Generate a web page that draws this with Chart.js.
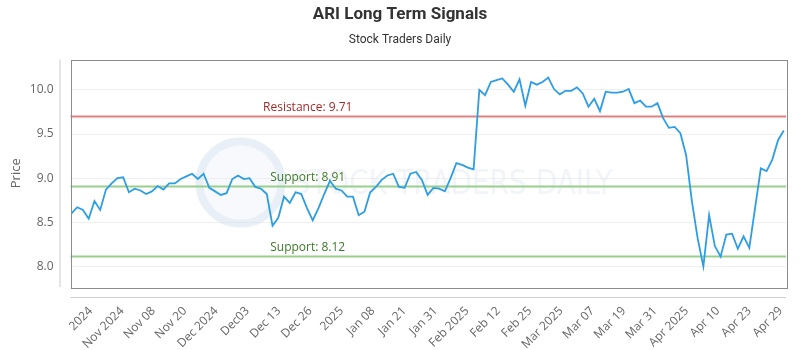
<!DOCTYPE html>
<html>
<head>
<meta charset="utf-8">
<title>ARI Long Term Signals</title>
<script src="https://cdn.jsdelivr.net/npm/chart.js@4.4.1/dist/chart.umd.min.js"></script>
<style>
  html, body { margin: 0; padding: 0; background: #fff; }
  #wrap { width: 800px; height: 350px; position: relative; }
</style>
</head>
<body>
<div id="wrap"><canvas id="chart"></canvas></div>
<script>
// closing prices, one per trading day
var prices = [
  8.60, 8.67, 8.64, 8.54, 8.74, 8.64, 8.87, 8.94, 9.00, 9.01,
  8.84, 8.88, 8.86, 8.82, 8.85, 8.91, 8.87, 8.94, 8.94, 8.99,
  9.02, 9.05, 8.99, 9.05, 8.89, 8.85, 8.81, 8.83, 8.99, 9.03,
  8.99, 9.00, 8.90, 8.88, 8.82, 8.46, 8.55, 8.79, 8.72, 8.84,
  8.82, 8.66, 8.52, 8.66, 8.82, 8.97, 8.88, 8.86, 8.79, 8.79,
  8.58, 8.62, 8.84, 8.90, 8.98, 9.03, 9.05, 8.90, 8.89, 9.05,
  9.07, 8.98, 8.81, 8.89, 8.88, 8.85, 9.00, 9.17, 9.15, 9.12,
  9.10, 10.00, 9.94, 10.09, 10.11, 10.13, 10.06, 9.98, 10.12, 9.82,
  10.09, 10.06, 10.09, 10.14, 10.01, 9.95, 9.99, 9.99, 10.03, 9.96,
  9.81, 9.90, 9.76, 9.98, 9.97, 9.97, 9.98, 10.01, 9.85, 9.88,
  9.81, 9.81, 9.85, 9.68, 9.57, 9.58, 9.51, 9.26, 8.74, 8.32,
  8.00, 8.58, 8.23, 8.11, 8.36, 8.37, 8.20, 8.34, 8.21, 8.66,
  9.11, 9.08, 9.21, 9.43, 9.54
];

var tickLabels = [
  '2024', 'Nov 2024', 'Nov 08', 'Nov 20', 'Dec 2024', 'Dec03', 'Dec 13', 'Dec 26',
  '2025', 'Jan 08', 'Jan 21', 'Jan 31', 'Feb 2025', 'Feb 12', 'Feb 25', 'Mar 2025',
  'Mar 07', 'Mar 19', 'Mar 31', 'Apr 2025', 'Apr 10', 'Apr 23', 'Apr 29'
];

var yTicks = [8.0, 8.5, 9.0, 9.5, 10.0];

var levelValues = [9.71, 8.91, 8.12];
var levelNames = ['Resistance', 'Support', 'Support'];

var titleText = 'ARI Long Term Signals';
var subtitleText = 'Stock Traders Daily';

var points = prices.map(function(v, i) { return {x: i, y: v}; });

var decor = {
  id: 'decor',
  beforeDatasetsDraw: function(chart) {
    var ctx = chart.ctx, a = chart.chartArea, y = chart.scales.y;
    ctx.save();
    // faint watermark: ring logo + wordmark
    var cx = a.left + 170, cy = y.getPixelForValue(8.95);
    ctx.strokeStyle = 'rgba(215,226,238,0.55)';
    ctx.lineWidth = 8;
    ctx.beginPath();
    ctx.arc(cx, cy, 41, 0, Math.PI * 2);
    ctx.stroke();
    ctx.fillStyle = 'rgba(232,238,245,0.35)';
    ctx.beginPath();
    ctx.arc(cx, cy, 37, 0, Math.PI * 2);
    ctx.fill();
    ctx.font = '34px "DejaVu Sans Condensed", "Liberation Sans Narrow", sans-serif';
    ctx.fillStyle = 'rgba(210,220,232,0.32)';
    ctx.textAlign = 'left';
    ctx.textBaseline = 'middle';
    var wm = 'STOCK TRADERS DAILY';
    var w = ctx.measureText(wm).width;
    ctx.translate(a.left + 222, y.getPixelForValue(8.92));
    ctx.scale(320 / w, 1);
    ctx.fillText(wm, 0, 0);
    ctx.restore();

    ctx.save();
    levelValues.forEach(function(v, i) {
      var py = Math.round(y.getPixelForValue(v)) + 0.5;
      var red = levelNames[i] === 'Resistance';
      ctx.strokeStyle = red ? '#e38080' : '#98cf8c';
      ctx.lineWidth = 2;
      ctx.beginPath();
      ctx.moveTo(a.left, py);
      ctx.lineTo(a.right, py);
      ctx.stroke();
      ctx.font = '12px "Open Sans", sans-serif';
      ctx.fillStyle = red ? '#a02c2c' : '#3d7a28';
      ctx.textAlign = 'center';
      ctx.textBaseline = 'bottom';
      ctx.fillText(levelNames[i] + ': ' + v.toFixed(2), a.left + (a.right - a.left) * 0.3315, py - 3);
    });
    ctx.restore();
  },
  afterDraw: function(chart) {
    var ctx = chart.ctx, a = chart.chartArea;
    ctx.save();
    // plot frame
    ctx.strokeStyle = '#8c8c8c';
    ctx.lineWidth = 1;
    ctx.strokeRect(Math.round(a.left) + 0.5, Math.round(a.top) + 0.5,
      Math.round(a.right - a.left), Math.round(a.bottom - a.top));
    // offset axis lines
    ctx.strokeStyle = '#cccccc';
    ctx.beginPath();
    ctx.moveTo(a.left - 10.5, a.top);
    ctx.lineTo(a.left - 10.5, a.bottom);
    ctx.moveTo(a.left, a.bottom + 10.5);
    ctx.lineTo(a.right, a.bottom + 10.5);
    ctx.stroke();
    // titles
    ctx.textAlign = 'center';
    ctx.textBaseline = 'middle';
    ctx.fillStyle = '#333333';
    ctx.font = 'bold 17px Roboto, sans-serif';
    ctx.fillText(titleText, 400, 15);
    ctx.font = '12px Roboto, sans-serif';
    ctx.fillText(subtitleText, 400, 40);
    ctx.restore();
  }
};

new Chart(document.getElementById('chart'), {
  type: 'line',
  data: {
    datasets: [{
      label: 'ARI',
      data: points,
      borderColor: '#2d9de6',
      borderWidth: 1.8,
      pointRadius: 0,
      tension: 0,
      fill: false
    }]
  },
  options: {
    responsive: true,
    maintainAspectRatio: false,
    animation: false,
    devicePixelRatio: 1,
    layout: { padding: { top: 59.5, right: 10, left: 0, bottom: 0 } },
    plugins: {
      legend: { display: false },
      tooltip: { enabled: false }
    },
    scales: {
      x: {
        type: 'linear',
        min: -0.17,
        max: 124.4,
        afterBuildTicks: function(s) {
          s.ticks = tickLabels.map(function(t, k) { return {value: 3.35 + k * 5.46}; });
        },
        afterFit: function(s) { s.height = 63; },
        grid: { display: false },
        border: { display: false },
        ticks: {
          autoSkip: false,
          minRotation: 45,
          maxRotation: 45,
          padding: 9,
          color: '#666666',
          font: { family: '"Open Sans", sans-serif', size: 12 },
          callback: function(v, i) { return tickLabels[i]; }
        }
      },
      y: {
        min: 7.766,
        max: 10.345,
        afterBuildTicks: function(s) {
          s.ticks = yTicks.map(function(v) { return {value: v}; });
        },
        afterFit: function(s) { s.width = 70.5; },
        grid: { color: '#f0f0f0', drawTicks: false },
        border: { display: false },
        title: {
          display: true,
          text: 'Price',
          color: '#666666',
          font: { family: '"Open Sans", sans-serif', size: 13 },
          padding: { top: 8, bottom: 0 }
        },
        ticks: {
          padding: 17,
          color: '#666666',
          font: { family: '"Open Sans", sans-serif', size: 12 },
          callback: function(v) { return v.toFixed(1); }
        }
      }
    }
  },
  plugins: [decor]
});
</script>
</body>
</html>
